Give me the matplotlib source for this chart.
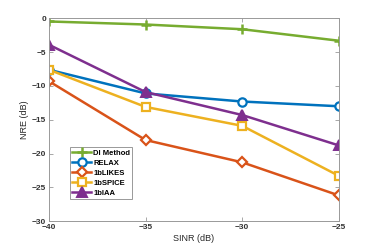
import matplotlib.pyplot as plt

plt.rcParams['font.family'] = ['Liberation Sans', 'DejaVu Sans']
plt.rcParams['font.weight'] = 'bold'

sinr = [-40, -35, -30, -25]
di_method = [-0.45, -0.9, -1.6, -3.3]
relax = [-7.6, -11.1, -12.3, -13.0]
likes = [-9.3, -18.0, -21.3, -26.2]
spice = [-7.6, -13.1, -15.9, -23.3]
iaa = [-3.9, -10.9, -14.3, -18.8]

fig = plt.figure(figsize=(3.74, 2.49), dpi=100)
ax = fig.add_axes([0.131, 0.112, 0.775, 0.814])

lw = 1.8
ax.plot(sinr, di_method, color='#77AC30', marker='+', markersize=7, mew=1.8, lw=lw, label='DI Method')
ax.plot(sinr, relax, color='#0072BD', marker='o', markersize=6, mew=1.6, mfc='white', lw=lw, label='RELAX')
ax.plot(sinr, likes, color='#D95319', marker='D', markersize=5.5, mew=1.6, mfc='white', lw=lw, label='1bLIKES')
ax.plot(sinr, spice, color='#EDB120', marker='s', markersize=6, mew=1.6, mfc='white', lw=lw, label='1bSPICE')
ax.plot(sinr, iaa, color='#7E2F8E', marker='^', markersize=7, mew=1.4, lw=lw, label='1bIAA')

ax.set_xlim(-40, -25)
ax.set_ylim(-30, 0)
ax.set_xticks(sinr)
ax.set_yticks(range(-30, 1, 5))
ax.tick_params(direction='in', labelsize=6, length=3, width=0.6, top=True, right=True,
               color='#999999', labelcolor='#333333', pad=2)
for s in ax.spines.values():
    s.set_color('#999999')
    s.set_linewidth(0.7)
ax.set_xlabel('SINR (dB)', fontsize=6.5, labelpad=2, color='#262626')
ax.set_ylabel('NRE (dB)', fontsize=6.5, labelpad=2, color='#262626')

leg = ax.legend(loc='lower left', bbox_to_anchor=(0.06, 0.09), fontsize=5.5, framealpha=1,
                edgecolor='#999999', fancybox=False, handlelength=2.4, borderpad=0.3,
                labelspacing=0.35, handletextpad=0.3)
leg.get_frame().set_linewidth(0.7)

fig.savefig('out.png', dpi=100)
